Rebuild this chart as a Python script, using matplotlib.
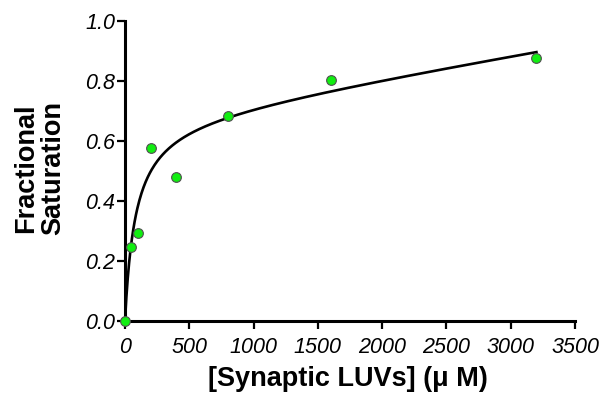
import matplotlib
matplotlib.use("Agg")
import matplotlib.pyplot as plt
import numpy as np

plt.rcParams["font.family"] = ["Liberation Sans", "DejaVu Sans"]

# Measured binding data
luv_conc = [0, 50, 100, 200, 400, 800, 1600, 3200]          # uM
frac_sat = [0.0, 0.247, 0.294, 0.577, 0.481, 0.682, 0.802, 0.876]

# One-site + nonspecific fit parameters
B_MAX = 0.683
K_D = 82.0
NS = 7.2e-5

x_ticks = [0, 500, 1000, 1500, 2000, 2500, 3000, 3500]
y_ticks = [0.0, 0.2, 0.4, 0.6, 0.8, 1.0]

fig = plt.figure(figsize=(6.0, 3.99), dpi=100)
ax = fig.add_axes([125 / 600, 78 / 399, 450 / 600, 300 / 399])

x_fit = np.linspace(0, max(luv_conc), 600)
y_fit = B_MAX * x_fit / (K_D + x_fit) + NS * x_fit
ax.plot(x_fit, y_fit, color="black", lw=1.9, zorder=2, clip_on=False)

ax.plot(luv_conc, frac_sat, "o", ms=7, mfc="#11ee11", mec="#505050",
        mew=0.8, zorder=3, clip_on=False)

ax.set_xlim(0, 3500)
ax.set_ylim(0, 1.0)
ax.set_xticks(x_ticks)
ax.set_yticks(y_ticks)
ax.set_yticklabels([f"{v:.1f}" for v in y_ticks])

for side in ("top", "right"):
    ax.spines[side].set_visible(False)
for side in ("left", "bottom"):
    ax.spines[side].set_linewidth(2.2)

ax.tick_params(axis="both", direction="out", length=5.5, width=1.6,
               labelsize=15.5)
ax.tick_params(axis="x", pad=6)
ax.tick_params(axis="y", pad=1.5)
for lab in ax.get_xticklabels() + ax.get_yticklabels():
    lab.set_fontstyle("italic")

fig.text(348 / 600, 1 - 379 / 399, "[Synaptic LUVs] (\u03bc M)",
         ha="center", va="center", fontsize=19.5, fontweight="bold")
fig.text(40 / 600, 1 - 168 / 399, "Fractional\nSaturation", rotation=90,
         ha="center", va="center", multialignment="center",
         fontsize=19.5, fontweight="bold", linespacing=1.05)

fig.savefig("out.png", dpi=100)
